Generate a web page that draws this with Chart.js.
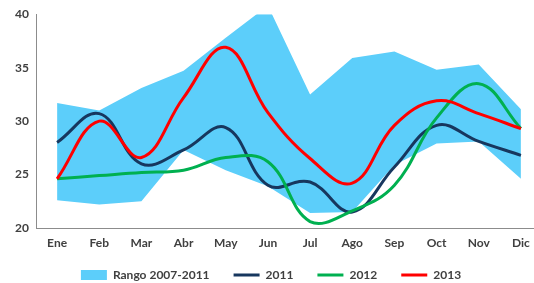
<!DOCTYPE html>
<html>
<head>
<meta charset="utf-8">
<script src="https://cdn.jsdelivr.net/npm/chart.js@4"></script>
<style>
html,body{margin:0;padding:0;overflow:hidden;background:#fff;width:534px;height:283px;}
canvas{display:block;}
</style>
</head>
<body>
<canvas id="c" width="542" height="298"></canvas>
<script>
const months = ['Ene','Feb','Mar','Abr','May','Jun','Jul','Ago','Sep','Oct','Nov','Dic'];
const rangeMax = [31.7, 31.0, 33.1, 34.7, 37.8, 40.8, 32.5, 35.9, 36.5, 34.8, 35.3, 31.1];
const rangeMin = [22.6, 22.2, 22.5, 27.3, 25.4, 23.9, 21.4, 21.5, 25.9, 27.9, 28.1, 24.6];
const y2011 = [28.0, 30.7, 26.0, 27.3, 29.4, 24.0, 24.3, 21.5, 25.7, 29.6, 28.1, 26.8];
const y2012 = [24.6, 24.9, 25.2, 25.4, 26.6, 26.2, 20.6, 21.6, 24.0, 30.3, 33.5, 29.3];
const y2013 = [24.6, 30.0, 26.6, 32.2, 36.9, 30.8, 26.5, 24.2, 29.6, 31.9, 30.7, 29.3];
const yTicks = [20, 25, 30, 35, 40];

const FONT = 'Lato';
const TXT = '#404040';
const AXIS = '#8c8c8c';

const legendShift = {
  id: 'legendShift',
  afterLayout(chart) {
    const l = chart.legend;
    if (l) { l.top -= 7; l.bottom -= 7; }
  }
};

new Chart(document.getElementById('c'), {
  type: 'line',
  data: {
    labels: months,
    datasets: [
      { label: 'Rango 2007-2011', data: rangeMax, backgroundColor: '#5ccefa', borderColor: '#5ccefa',
        borderWidth: 0, pointRadius: 0, tension: 0, fill: '+1', order: 10, pointStyle: 'rect' },
      { label: '_min', data: rangeMin, backgroundColor: '#5ccefa', borderColor: '#5ccefa',
        borderWidth: 0, pointRadius: 0, tension: 0, fill: false, order: 11 },
      { label: '2011', data: y2011, borderColor: '#17375e', backgroundColor: '#17375e',
        borderWidth: 3, pointRadius: 0, tension: 0.4, fill: false, order: 3, pointStyle: 'line' },
      { label: '2012', data: y2012, borderColor: '#00b050', backgroundColor: '#00b050',
        borderWidth: 3, pointRadius: 0, tension: 0.4, fill: false, order: 2, pointStyle: 'line' },
      { label: '2013', data: y2013, borderColor: '#ff0000', backgroundColor: '#ff0000',
        borderWidth: 3, pointRadius: 0, tension: 0.4, fill: false, order: 1, pointStyle: 'line' }
    ]
  },
  plugins: [legendShift],
  options: {
    responsive: false,
    animation: false,
    devicePixelRatio: 1,
    layout: { padding: { top: 13, left: 0, right: 0, bottom: 0 } },
    plugins: {
      tooltip: { enabled: false },
      legend: {
        position: 'bottom',
        labels: {
          usePointStyle: true,
          pointStyleWidth: 26,
          boxHeight: 10,
          padding: 24,
          color: TXT,
          font: { family: FONT, size: 12, weight: 'bold' },
          filter: (item) => item.text !== '_min',
          sort: (a, b) => a.datasetIndex - b.datasetIndex
        }
      }
    },
    scales: {
      x: {
        offset: true,
        grid: { display: false, drawTicks: false },
        border: { display: true, color: AXIS, width: 1 },
        ticks: { color: TXT, font: { family: FONT, size: 12, weight: 'bold' }, padding: 8, maxRotation: 0 },
        afterFit: (s) => { s.height = 24; }
      },
      y: {
        min: 20, max: 40,
        afterBuildTicks: (s) => { s.ticks = yTicks.map(v => ({ value: v })); },
        grid: { display: false, drawTicks: false },
        border: { display: true, color: AXIS, width: 1 },
        ticks: { color: TXT, font: { family: FONT, size: 12, weight: 'bold' }, padding: 7 },
        afterFit: (s) => { s.width = 36; }
      }
    }
  }
});
</script>
</body>
</html>
